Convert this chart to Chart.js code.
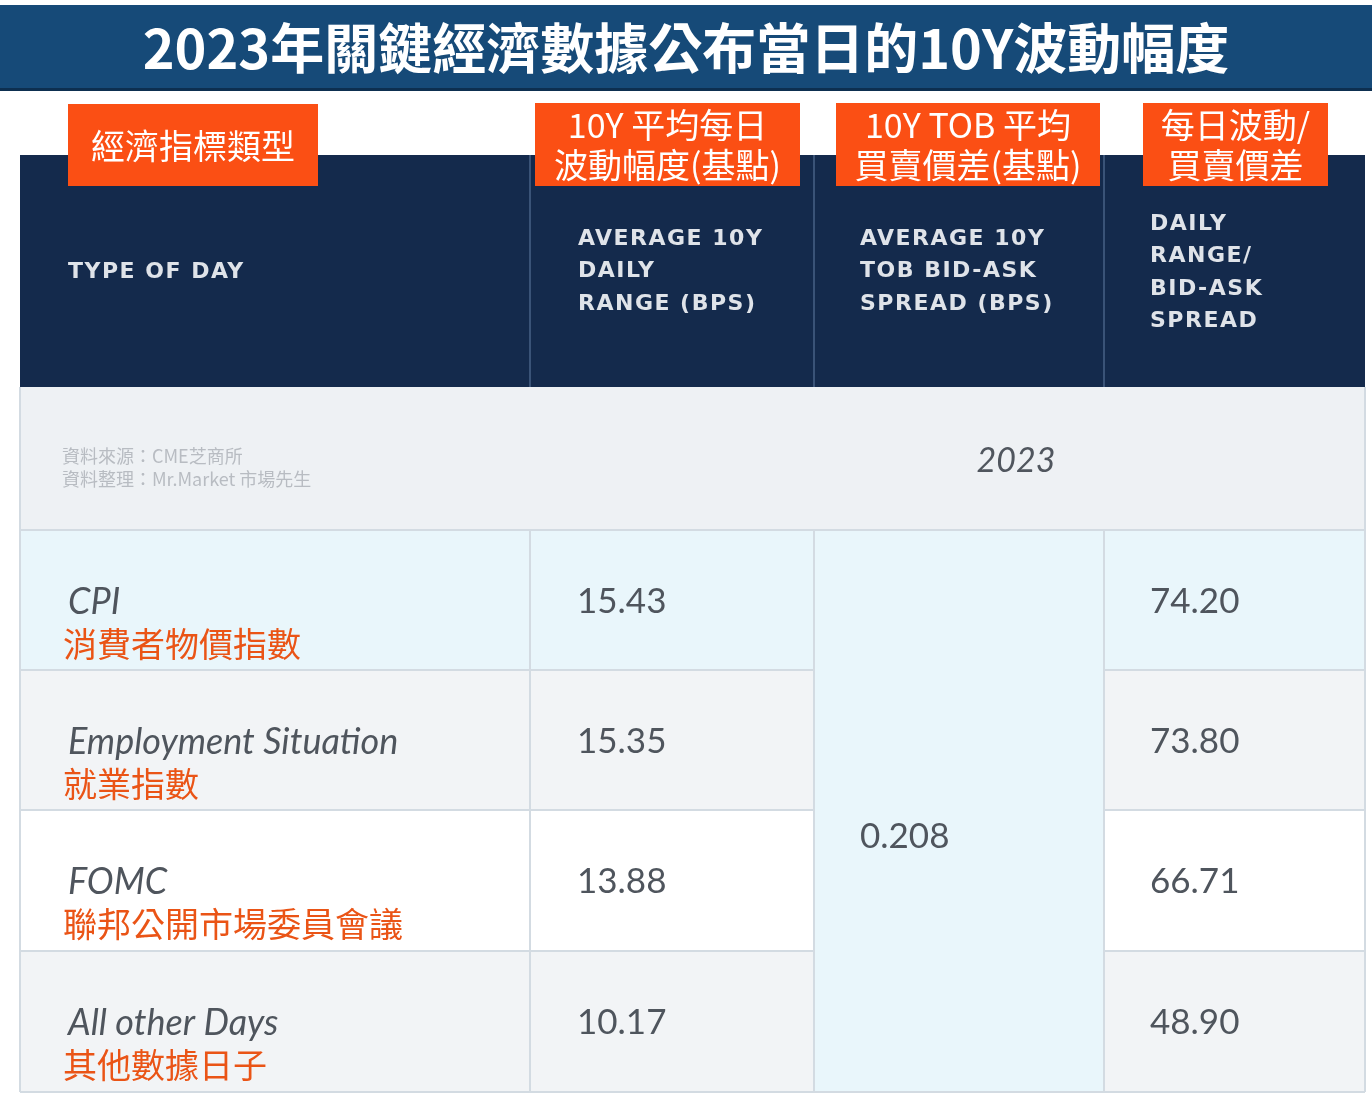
<!DOCTYPE html>
<html><head><meta charset="utf-8">
<script src="https://cdn.jsdelivr.net/npm/chart.js@4/dist/chart.umd.min.js"></script>
<style>html,body{margin:0;padding:0;background:#fff}#w{width:1372px;height:1115px}</style>
</head><body><div id="w"><canvas id="c"></canvas></div>
<script>
const title = "2023年關鍵經濟數據公布當日的10Y波動幅度";
const categories = ["CPI", "Employment Situation", "FOMC", "All other Days"];
const categoriesZh = ["消費者物價指數", "就業指數", "聯邦公開市場委員會議", "其他數據日子"];
const dailyRange = ["15.43", "15.35", "13.88", "10.17"];
const bidAskSpread = "0.208";
const rangeToSpread = ["74.20", "73.80", "66.71", "48.90"];
const headersEn = [["TYPE OF DAY"], ["AVERAGE 10Y", "DAILY", "RANGE (BPS)"], ["AVERAGE 10Y", "TOB BID-ASK", "SPREAD (BPS)"], ["DAILY", "RANGE/", "BID-ASK", "SPREAD"]];
const headersZh = [["經濟指標類型"], ["10Y 平均每日", "波動幅度(基點)"], ["10Y TOB 平均", "買賣價差(基點)"], ["每日波動/", "買賣價差"]];
const yearLabel = "2023";
const sourceLines = ["資料來源：CME芝商所", "資料整理：Mr.Market 市場先生"];

const colEdges = [20, 530, 814, 1104, 1365];
const rowEdges = [530, 670, 810, 951, 1092];
const rowFill = ["#e9f6fb", "#f2f4f6", "#ffffff", "#f2f4f6"];

const tablePlugin = {
  id: 'table',
  afterDraw(chart) {
    const ctx = chart.ctx, X = v => chart.scales.x.getPixelForValue(v), Y = v => chart.scales.y.getPixelForValue(v);
    const rect = (x0, y0, x1, y1, c) => { ctx.fillStyle = c; ctx.fillRect(X(x0), Y(y0), X(x1) - X(x0), Y(y1) - Y(y0)); };
    const text = (s, x, y, font, color, align, ls) => {
      ctx.font = font; ctx.fillStyle = color; ctx.textAlign = align || 'left'; ctx.textBaseline = 'middle';
      ctx.letterSpacing = (ls || 0) + 'px';
      ctx.fillText(s, X(x), Y(y));
    };
    ctx.save();
    rect(0, 5, 1372, 90, "#164a78");
    ctx.fillStyle = "#0d2f50"; ctx.fillRect(X(0), Y(88), X(1372), 3);
    text(title, 686, 48, "bold 54px 'Noto Sans CJK TC'", "#fff", 'center');
    rect(20, 155, 1365, 387, "#142a4c");
    rect(20, 387, 1365, 530, "#eef1f4");
    for (let r = 0; r < 4; r++) rect(20, rowEdges[r], 1365, rowEdges[r + 1], rowFill[r]);
    rect(814, 530, 1104, 1092, "#e9f6fb");
    ctx.strokeStyle = "#d3dbe2"; ctx.lineWidth = 2;
    const line = (x0, y0, x1, y1) => { ctx.beginPath(); ctx.moveTo(X(x0), Y(y0)); ctx.lineTo(X(x1), Y(y1)); ctx.stroke(); };
    line(20, 530, 1365, 530);
    for (let r = 1; r < 4; r++) { line(20, rowEdges[r], 814, rowEdges[r]); line(1104, rowEdges[r], 1365, rowEdges[r]); }
    line(20, 1092, 1365, 1092);
    for (let c = 1; c < 4; c++) line(colEdges[c], 530, colEdges[c], 1092);
    line(20, 387, 20, 1092); line(1365, 387, 1365, 1092);
    ctx.strokeStyle = "#3a5377";
    for (let c = 1; c < 4; c++) line(colEdges[c], 155, colEdges[c], 387);
    const hf = "bold 22px 'DejaVu Sans'", hc = "#dfe3e9";
    text(headersEn[0][0], 68, 272, hf, hc, 'left', 1.5);
    headersEn[1].forEach((s, i) => text(s, 578, 239 + i * 32.5, hf, hc, 'left', 1.5));
    headersEn[2].forEach((s, i) => text(s, 860, 239 + i * 32.5, hf, hc, 'left', 1.5));
    headersEn[3].forEach((s, i) => text(s, 1150, 224 + i * 32.5, hf, hc, 'left', 1.5));
    const boxes = [[68, 104, 318, 186], [535, 103, 800, 186], [836, 103, 1100, 186], [1143, 103, 1328, 186]];
    boxes.forEach((b, i) => {
      rect(b[0], b[1], b[2], b[3], "#fb4f14");
      const L = headersZh[i], cx = (b[0] + b[2]) / 2;
      if (L.length === 1) text(L[0], cx, 146, "34px 'Noto Sans CJK TC'", "#fff", 'center');
      else L.forEach((s, j) => text(s, cx, 125 + j * 40, "34px 'Noto Sans CJK TC'", "#fff", 'center'));
    });
    text(yearLabel, 1016, 461, "italic 34px 'Lato'", "#50565e", 'center');
    sourceLines.forEach((s, i) => text(s, 62, 456 + i * 23, "18px 'Noto Sans CJK TC'", "#b8bcc2"));
    for (let r = 0; r < 4; r++) {
      const top = rowEdges[r];
      text(categories[r], 68, top + 72, "italic 36px 'Lato'", "#4f555d");
      text(categoriesZh[r], 63, top + 114, "34px 'Noto Sans CJK TC'", "#ea5416");
      text(dailyRange[r], 577, top + 72, "35px 'Lato'", "#4f555d");
      text(rangeToSpread[r], 1150, top + 72, "35px 'Lato'", "#4f555d");
    }
    text(bidAskSpread, 860, 837, "35px 'Lato'", "#4f555d");
    ctx.restore();
  }
};

new Chart(document.getElementById('c'), {
  type: 'scatter',
  data: { datasets: [{ data: [] }] },
  options: {
    responsive: true, maintainAspectRatio: false, animation: false,
    layout: { padding: 0 },
    plugins: { legend: { display: false }, tooltip: { enabled: false } },
    scales: {
      x: { type: 'linear', min: 0, max: 1372, display: false },
      y: { type: 'linear', min: 0, max: 1115, reverse: true, display: false }
    }
  },
  plugins: [tablePlugin]
});
</script></body></html>
